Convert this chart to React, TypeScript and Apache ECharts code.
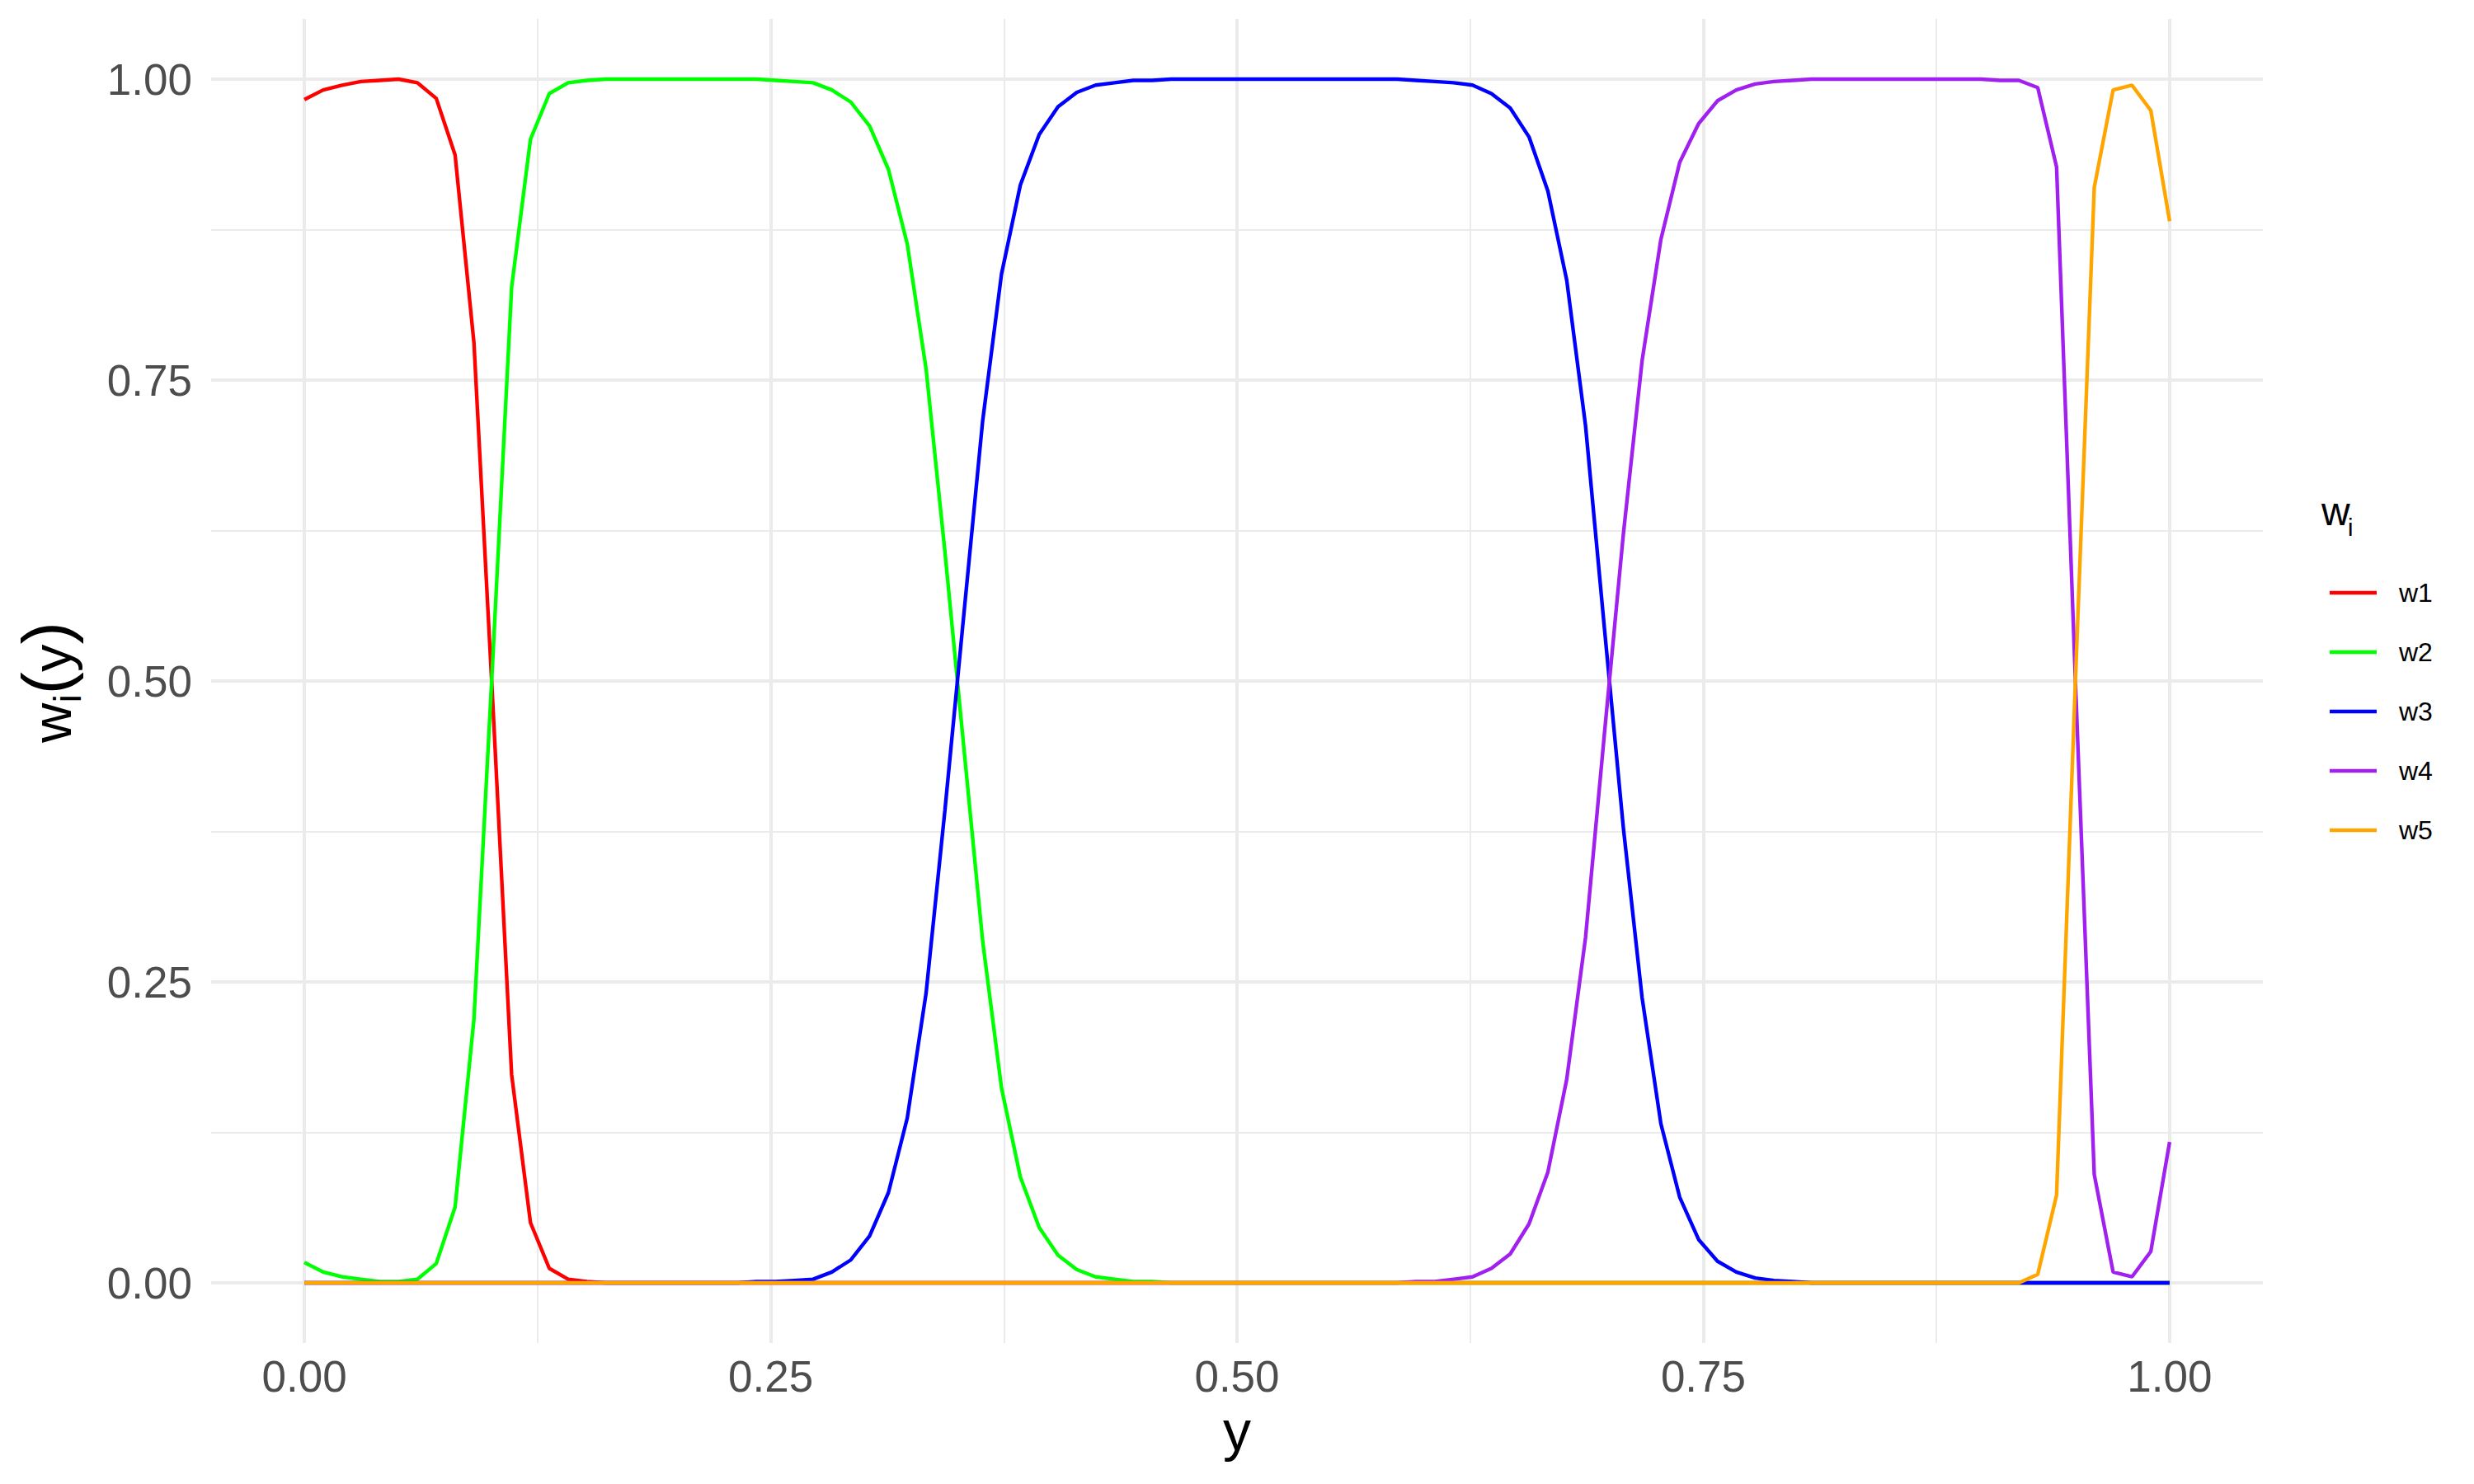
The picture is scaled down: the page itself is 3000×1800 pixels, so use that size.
import React, { useEffect, useRef } from "react";
import * as echarts from "echarts";

const FONT = "Liberation Sans, Arial, Helvetica, sans-serif";

const SERIES_NAMES = ["w1", "w2", "w3", "w4", "w5"];
const SERIES_COLORS = ["#FF0000", "#00FF00", "#0000FF", "#A020F0", "#FFA500"];

const X_TICKS = [0, 0.25, 0.5, 0.75, 1];
const X_MINOR = [0.125, 0.375, 0.625, 0.875];
const Y_TICKS = [0, 0.25, 0.5, 0.75, 1];
const Y_MINOR = [0.125, 0.375, 0.625, 0.875];

// evaluation grid: 100 equally spaced points on [0, 1]
const Y_GRID = Array.from({ length: 100 }, (_, i) => i / 99);

const W1 = [
  0.983, 0.991, 0.995, 0.998, 0.999, 1.0, 0.997, 0.984, 0.937, 0.781,
  0.482, 0.173, 0.05, 0.012, 0.003, 0.001, 0, 0, 0, 0,
  0, 0, 0, 0, 0, 0, 0, 0, 0, 0,
  0, 0, 0, 0, 0, 0, 0, 0, 0, 0,
  0, 0, 0, 0, 0, 0, 0, 0, 0, 0,
  0, 0, 0, 0, 0, 0, 0, 0, 0, 0,
  0, 0, 0, 0, 0, 0, 0, 0, 0, 0,
  0, 0, 0, 0, 0, 0, 0, 0, 0, 0,
  0, 0, 0, 0, 0, 0, 0, 0, 0, 0,
  0, 0, 0, 0, 0, 0, 0, 0, 0, 0,
];

const W2 = [
  0.017, 0.009, 0.005, 0.003, 0.001, 0.001, 0.003, 0.016, 0.063, 0.219,
  0.518, 0.827, 0.95, 0.988, 0.997, 0.999, 1, 1, 1, 1,
  1, 1, 1, 1, 1, 0.999, 0.998, 0.997, 0.991, 0.981,
  0.961, 0.925, 0.863, 0.759, 0.607, 0.445, 0.284, 0.162, 0.088, 0.046,
  0.023, 0.011, 0.005, 0.003, 0.001, 0.001, 0, 0, 0, 0,
  0, 0, 0, 0, 0, 0, 0, 0, 0, 0,
  0, 0, 0, 0, 0, 0, 0, 0, 0, 0,
  0, 0, 0, 0, 0, 0, 0, 0, 0, 0,
  0, 0, 0, 0, 0, 0, 0, 0, 0, 0,
  0, 0, 0, 0, 0, 0, 0, 0, 0, 0,
];

const W3 = [
  0, 0, 0, 0, 0, 0, 0, 0, 0, 0,
  0, 0, 0, 0, 0, 0, 0, 0, 0, 0,
  0, 0, 0, 0, 0.001, 0.001, 0.002, 0.003, 0.009, 0.019,
  0.039, 0.075, 0.137, 0.241, 0.393, 0.555, 0.716, 0.838, 0.912, 0.954,
  0.977, 0.989, 0.995, 0.997, 0.999, 0.999, 1, 1, 1, 1,
  1, 1, 1, 1, 1, 1, 1, 1, 1, 0.999,
  0.998, 0.997, 0.995, 0.988, 0.976, 0.952, 0.907, 0.833, 0.712, 0.544,
  0.379, 0.237, 0.132, 0.071, 0.036, 0.018, 0.009, 0.004, 0.002, 0.001,
  0, 0, 0, 0, 0, 0, 0, 0, 0, 0,
  0, 0, 0, 0, 0, 0, 0, 0, 0, 0,
];

const W4 = [
  0, 0, 0, 0, 0, 0, 0, 0, 0, 0,
  0, 0, 0, 0, 0, 0, 0, 0, 0, 0,
  0, 0, 0, 0, 0, 0, 0, 0, 0, 0,
  0, 0, 0, 0, 0, 0, 0, 0, 0, 0,
  0, 0, 0, 0, 0, 0, 0, 0, 0, 0,
  0, 0, 0, 0, 0, 0, 0, 0, 0, 0.001,
  0.001, 0.003, 0.005, 0.012, 0.024, 0.049, 0.092, 0.169, 0.287, 0.456,
  0.621, 0.766, 0.867, 0.931, 0.963, 0.982, 0.991, 0.996, 0.998, 0.999,
  1, 1, 1, 1, 1, 1, 1, 1, 1, 1,
  0.999, 0.999, 0.993, 0.927, 0.5, 0.09, 0.009, 0.005, 0.026, 0.117,
];

const W5 = [
  0, 0, 0, 0, 0, 0, 0, 0, 0, 0,
  0, 0, 0, 0, 0, 0, 0, 0, 0, 0,
  0, 0, 0, 0, 0, 0, 0, 0, 0, 0,
  0, 0, 0, 0, 0, 0, 0, 0, 0, 0,
  0, 0, 0, 0, 0, 0, 0, 0, 0, 0,
  0, 0, 0, 0, 0, 0, 0, 0, 0, 0,
  0, 0, 0, 0, 0, 0, 0, 0, 0, 0,
  0, 0, 0, 0, 0, 0, 0, 0, 0, 0,
  0, 0, 0, 0, 0, 0, 0, 0, 0, 0,
  0, 0, 0.007, 0.073, 0.5, 0.91, 0.991, 0.995, 0.974, 0.882,
];

const SERIES_VALUES = [W1, W2, W3, W4, W5];

export default function App() {
  const ref = useRef<HTMLDivElement>(null);

  useEffect(() => {
    document.body.style.margin = "0";
    const chart = echarts.init(ref.current as HTMLDivElement, null, { renderer: "svg" });

    const gridColor = "#EBEBEB";
    const axisCommon = {
      type: "value",
      min: -0.05,
      max: 1.05,
      axisLine: { show: false },
    };

    const option: any = {
      animation: false,
      backgroundColor: "#FFFFFF",
      textStyle: { fontFamily: FONT },
      grid: {
        left: 256,
        right: 256,
        top: 23,
        bottom: 171,
        containLabel: false,
        outerBoundsMode: "none",
      },
      xAxis: [
        {
          ...axisCommon,
          position: "bottom",
          axisTick: { show: false, customValues: X_TICKS },
          axisLabel: {
            customValues: X_TICKS,
            formatter: (v: number) => v.toFixed(2),
            fontSize: 53,
            color: "#4D4D4D",
            margin: 14,
            fontFamily: FONT,
          },
          splitLine: { show: true, lineStyle: { color: gridColor, width: 4 } },
          name: "y",
          nameLocation: "middle",
          nameGap: 54,
          nameTextStyle: { fontSize: 68, color: "#000000", fontFamily: FONT },
        },
        {
          ...axisCommon,
          position: "bottom",
          axisTick: { show: false, customValues: X_MINOR },
          axisLabel: { show: false, customValues: X_MINOR },
          splitLine: { show: true, lineStyle: { color: gridColor, width: 2 } },
        },
      ],
      yAxis: [
        {
          ...axisCommon,
          position: "left",
          axisTick: { show: false, customValues: Y_TICKS },
          axisLabel: {
            customValues: Y_TICKS,
            formatter: (v: number) => v.toFixed(2),
            fontSize: 53,
            color: "#4D4D4D",
            margin: 23,
            fontFamily: FONT,
          },
          splitLine: { show: true, lineStyle: { color: gridColor, width: 4 } },
        },
        {
          ...axisCommon,
          position: "left",
          axisTick: { show: false, customValues: Y_MINOR },
          axisLabel: { show: false, customValues: Y_MINOR },
          splitLine: { show: true, lineStyle: { color: gridColor, width: 2 } },
        },
      ],
      legend: {
        data: SERIES_NAMES,
        orient: "vertical",
        left: 2820,
        top: 697,
        icon: "rect",
        itemWidth: 57,
        itemHeight: 4.4,
        itemGap: 38,
        selectedMode: false,
        textStyle: {
          fontSize: 32,
          lineHeight: 34,
          color: "#000000",
          fontFamily: FONT,
          padding: [0, 0, 0, 22],
        },
      },
      graphic: [
        // y-axis title  w_i(y), rotated
        {
          type: "group",
          x: 62,
          y: 828,
          rotation: Math.PI / 2,
          silent: true,
          children: [
            {
              type: "text",
              x: -73,
              y: 0,
              style: { text: "w", fontSize: 67, fill: "#000000", fontFamily: FONT, align: "left", verticalAlign: "middle" },
            },
            {
              type: "text",
              x: -24.6,
              y: 19,
              style: { text: "i", fontSize: 47, fill: "#000000", fontFamily: FONT, align: "left", verticalAlign: "middle" },
            },
            {
              type: "text",
              x: -14.2,
              y: -7,
              style: { text: "(", fontSize: 82, fill: "#000000", fontFamily: FONT, align: "left", verticalAlign: "middle" },
            },
            {
              type: "text",
              x: 13.1,
              y: 0,
              style: { text: "y", fontSize: 67, fill: "#000000", fontFamily: FONT, align: "left", verticalAlign: "middle" },
            },
            {
              type: "text",
              x: 46.6,
              y: -7,
              style: { text: ")", fontSize: 82, fill: "#000000", fontFamily: FONT, align: "left", verticalAlign: "middle" },
            },
          ],
        },
        // legend title  w_i
        {
          type: "text",
          left: 2815,
          top: 596,
          style: { text: "w", fontSize: 48, fill: "#000000", fontFamily: FONT },
          silent: true,
        },
        {
          type: "text",
          left: 2847,
          top: 625,
          style: { text: "i", fontSize: 29, fill: "#000000", fontFamily: FONT },
          silent: true,
        },
      ],
      series: SERIES_VALUES.map((vals, i) => ({
        type: "line",
        name: SERIES_NAMES[i],
        xAxisIndex: 0,
        yAxisIndex: 0,
        data: Y_GRID.map((x, j) => [x, vals[j]]),
        showSymbol: false,
        symbol: "none",
        silent: true,
        color: SERIES_COLORS[i],
        lineStyle: { width: 4.4, color: SERIES_COLORS[i] },
        itemStyle: { color: SERIES_COLORS[i] },
        z: 2 + i,
      })),
    };

    chart.setOption(option);
    return () => chart.dispose();
  }, []);

  return (
    <div
      ref={ref}
      style={{ position: "fixed", left: 0, top: 0, width: 3000, height: 1800 }}
    />
  );
}
